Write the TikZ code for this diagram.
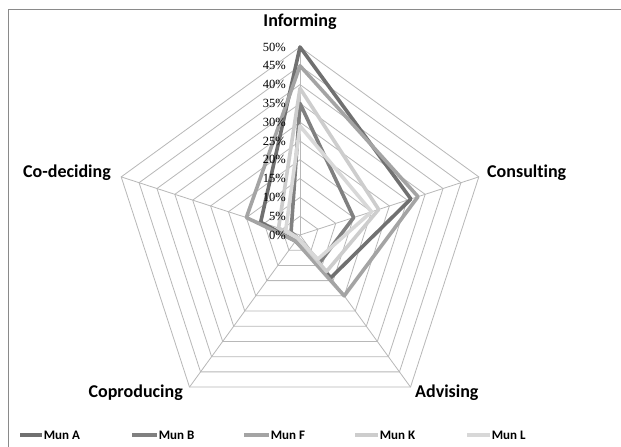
\documentclass[tikz,border=0pt]{standalone}
\usepackage{fontspec}
\setmainfont[Ligatures=NoCommon]{Carlito}
\newfontfamily\tickfont{Liberation Serif}
\definecolor{munA}{HTML}{707070}
\definecolor{munB}{HTML}{808080}
\definecolor{munF}{HTML}{A4A4A4}
\definecolor{munK}{HTML}{CDCDCD}
\definecolor{munL}{HTML}{D8D8D8}
\definecolor{gridgray}{HTML}{B8B8B8}
\definecolor{framegray}{HTML}{8A8A8A}
\newcommand\radarline[6]{\draw[seriesline,#1] (90:#2*3.76) -- (18:#3*3.76) -- (-54:#4*3.76) -- (-126:#5*3.76) -- (162:#6*3.76) -- cycle;}
\begin{document}
\begin{tikzpicture}[x=1pt,y=1pt,
  gridline/.style={draw=gridgray, line width=0.8pt},
  seriesline/.style={line width=3.6pt, line join=round},
  axislabel/.style={font=\fontsize{18}{20}\selectfont\bfseries, inner sep=0pt},
  ticklabel/.style={font=\tickfont\fontsize{12.5}{13}\selectfont, anchor=east, inner sep=0pt},
  legendtext/.style={font=\fontsize{13}{15}\selectfont\bfseries, anchor=west, inner sep=0pt},
  legendline/.style={line width=3.6pt}]
\useasboundingbox (0,0) rectangle (621,447);
\fill[white] (0,0) rectangle (621,447);
\draw[framegray, line width=1.5pt] (8.5,0) -- (8.5,437.5) -- (621,437.5);
\begin{scope}[shift={(300,212)}]
  \foreach \k in {1,...,10} {
    \draw[gridline] (90:\k*18.8) -- (18:\k*18.8) -- (-54:\k*18.8) -- (-126:\k*18.8) -- (162:\k*18.8) -- cycle;
  }
  \foreach \a in {90,18,-54,-126,162} \draw[gridline] (0,0) -- (\a:188);
  \radarline{munA}{50}{31}{14}{2}{11}
  \radarline{munB}{35}{15}{9}{1}{2.5}
  \radarline{munF}{45}{33}{20}{2}{15}
  \radarline{munK}{39}{22}{12}{1}{6}
  \radarline{munL}{29}{20}{8}{1}{4}
  \foreach \k in {0,...,10} {
    \pgfmathtruncatemacro\p{5*\k}
    \node[ticklabel] (t\k) at (-14,\k*18.8) {\p\%};
  }
\end{scope}
\node[axislabel] (inf) at (300,425) {Informing};
\node[axislabel, anchor=west] (cons) at (487,274) {Consulting};
\node[axislabel, anchor=east] (codec) at (111,274) {Co-deciding};
\node[axislabel, anchor=west] (adv) at (415,54) {Advising};
\node[axislabel, anchor=east] (coprod) at (183,54) {Coproducing};
\draw[legendline, munA] (20,12) -- (42,12) node[legendtext, black] (lA) {Mun A};
\draw[legendline, munB] (132,12) -- (157,12) node[legendtext, black] (lB) {Mun B};
\draw[legendline, munF] (244,12) -- (269,12) node[legendtext, black] (lF) {Mun F};
\draw[legendline, munK] (355,12) -- (378,12) node[legendtext, black] (lK) {Mun K};
\draw[legendline, munL] (467,12) -- (490,12) node[legendtext, black] (lL) {Mun L};
\end{tikzpicture}
\end{document}
